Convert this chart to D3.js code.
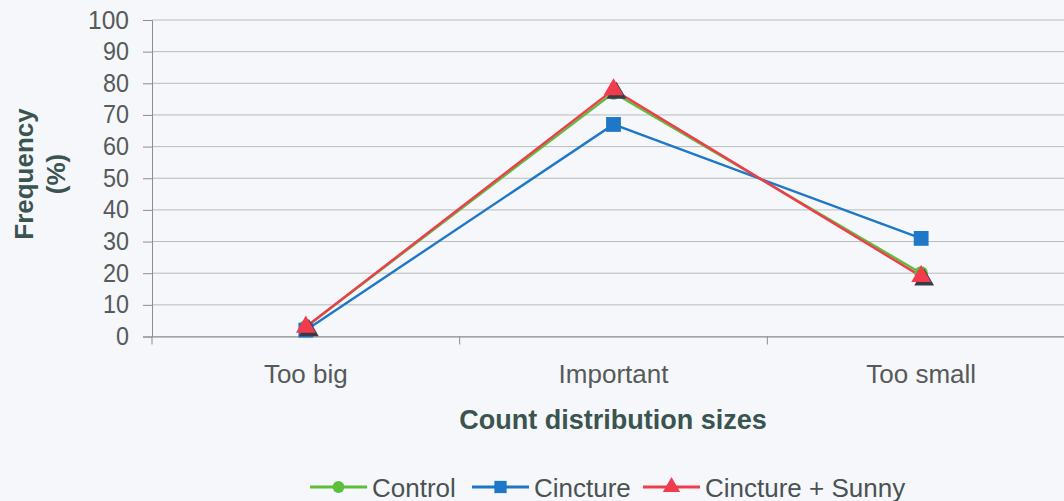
<!DOCTYPE html>
<html><head><meta charset="utf-8">
<script src="https://cdn.jsdelivr.net/npm/d3@7"></script>
<style>
html,body{margin:0;padding:0;background:#f5f7fb;}
svg{display:block;font-family:"Liberation Sans",Arial,sans-serif;}
</style></head>
<body><svg id="c" width="1064" height="501"></svg>
<script>
const categories = ["Too big", "Important", "Too small"];
const seriesNames = ["Control", "Cincture", "Cincture + Sunny"];
const controlValues = [3, 77, 20];
const cinctureValues = [2, 67, 31];
const sunnyValues = [3, 78, 19];
const yTicks = [0,10,20,30,40,50,60,70,80,90,100];

const series = [
  {name: seriesNames[0], values: controlValues, color: "#5cbf3c", shape: d3.symbolCircle, size: 150},
  {name: seriesNames[1], values: cinctureValues, color: "#1f77c8", shape: d3.symbolSquare, size: 220},
  {name: seriesNames[2], values: sunnyValues, color: "#f03c4c", shape: d3.symbolTriangle, size: 170}
];

const svg = d3.select("#c");
const mLeft = 152, mRight = 1075, mTop = 20, mBottom = 336.5;
const x = d3.scaleBand().domain(categories).range([mLeft, mRight]);
const y = d3.scaleLinear().domain([0, 100]).range([mBottom, mTop]);

// gridlines
svg.append("g").selectAll("line").data(yTicks).join("line")
  .attr("x1", mLeft).attr("x2", 1064)
  .attr("y1", d => y(d)).attr("y2", d => y(d))
  .attr("stroke", "#b8bcbc").attr("stroke-width", 1);

// y axis
const yAxis = svg.append("g").attr("transform", `translate(${mLeft},0)`)
  .call(d3.axisLeft(y).tickValues(yTicks).tickSize(9).tickPadding(14));
yAxis.select(".domain").attr("stroke", "#8a8e8e");
yAxis.selectAll(".tick line").attr("stroke", "#8a8e8e");
yAxis.selectAll("text").attr("font-size", 25).attr("fill", "#555a5a")
  .attr("font-family", "Liberation Sans, Arial, sans-serif")
  .attr("textLength", d => d === 100 ? 41 : (d === 0 ? 13 : 26)).attr("lengthAdjust", "spacingAndGlyphs");

// x axis
const xAxis = svg.append("g").attr("transform", `translate(0,${mBottom})`)
  .call(d3.axisBottom(x).tickSize(0));
xAxis.select(".domain").attr("stroke", "#8a8e8e");
xAxis.selectAll("text").attr("font-size", 26).attr("fill", "#555a5a")
  .attr("font-family", "Liberation Sans, Arial, sans-serif")
  .attr("dy", null).attr("y", 383 - mBottom);
// boundary ticks
const bounds = categories.map(c => x(c)).concat([x(categories[categories.length-1]) + x.bandwidth()]);
svg.append("g").selectAll("line").data(bounds).join("line")
  .attr("x1", d => d).attr("x2", d => d)
  .attr("y1", mBottom).attr("y2", mBottom + 8)
  .attr("stroke", "#8a8e8e");

const cx = c => x(c) + x.bandwidth() / 2;

// lines
const line = d3.line().x((d, i) => cx(categories[i])).y(d => y(d));
series.forEach(s => {
  svg.append("path").datum(s.values).attr("d", line)
    .attr("fill", "none").attr("stroke", s.color).attr("stroke-width", 2.4);
});
// markers (with dark drop shadow on triangles)
series.forEach(s => {
  const g = svg.append("g");
  if (s.shape === d3.symbolTriangle) {
    g.selectAll("path.sh").data(s.values).join("path").attr("class", "sh")
      .attr("transform", (d, i) => `translate(${cx(categories[i]) + 3},${y(d) + 3.5})`)
      .attr("d", d3.symbol().type(s.shape).size(s.size)())
      .attr("fill", "#3a3a48");
  }
  g.selectAll("path.m").data(s.values).join("path").attr("class", "m")
    .attr("transform", (d, i) => `translate(${cx(categories[i])},${y(d)})`)
    .attr("d", d3.symbol().type(s.shape).size(s.size)())
    .attr("fill", s.color);
});

// axis titles
svg.append("text").attr("x", 613).attr("y", 429).attr("text-anchor", "middle")
  .attr("font-size", 27).attr("font-weight", "bold").attr("fill", "#3a5450")
  .text("Count distribution sizes");
const yt = svg.append("text").attr("transform", "translate(33,174) rotate(-90)")
  .attr("text-anchor", "middle").attr("font-size", 26).attr("font-weight", "bold").attr("fill", "#3a5450");
yt.append("tspan").attr("x", 0).attr("dy", 0).text("Frequency");
yt.append("tspan").attr("x", 0).attr("dy", 32).text("(%)");

// legend
const legendX = [310, 472, 643];
const legendMarker = [110, 150, 130];
const lg = svg.append("g");
series.forEach((s, i) => {
  const gx = legendX[i], gy = 487;
  lg.append("line").attr("x1", gx).attr("x2", gx + 57).attr("y1", gy).attr("y2", gy)
    .attr("stroke", s.color).attr("stroke-width", 3);
  lg.append("path").attr("transform", `translate(${gx + 28.5},${gy})`)
    .attr("d", d3.symbol().type(s.shape).size(legendMarker[i])()).attr("fill", s.color);
  lg.append("text").attr("x", gx + 62).attr("y", gy + 9.5).attr("font-size", 26)
    .attr("fill", "#4a5252").text(s.name);
});
</script></body></html>
